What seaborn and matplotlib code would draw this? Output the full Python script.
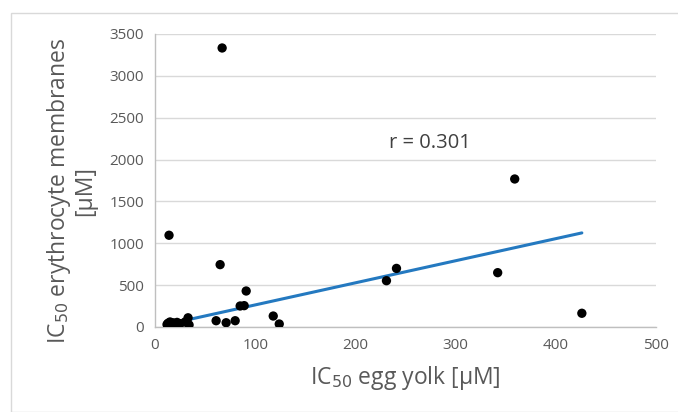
import numpy as np
import pandas as pd
import matplotlib
matplotlib.use("Agg")
import matplotlib.pyplot as plt
import seaborn as sns
from matplotlib.patches import Rectangle

# data (IC50 values, µM)
egg_yolk = [12, 13, 14, 15, 16, 18, 20, 22, 25, 30, 33, 34,
            14, 61, 65, 67, 71, 80, 85, 89, 91, 118, 124,
            231, 241, 342, 359, 426]
erythrocyte = [30, 45, 20, 60, 35, 50, 25, 55, 40, 60, 110, 25,
               1096, 75, 745, 3333, 51, 75, 251, 255, 430, 131, 36,
               553, 700, 649, 1768, 164]
x_ticks = [0, 100, 200, 300, 400, 500]
y_ticks = [0, 500, 1000, 1500, 2000, 2500, 3000, 3500]
r_label = "r = 0.301"

df = pd.DataFrame({"egg": egg_yolk, "ery": erythrocyte})

# linear trendline through the origin (as in the spreadsheet chart)
xa = np.asarray(egg_yolk, float)
ya = np.asarray(erythrocyte, float)
slope = (xa * ya).sum() / (xa * xa).sum()
trend = pd.DataFrame({"egg": [xa.min(), xa.max()]})
trend["ery"] = slope * trend["egg"]

sns.set_style("white")
plt.rcParams['font.family'] = ['Open Sans', 'DejaVu Sans']

fig = plt.figure(figsize=(6.78, 4.12), dpi=100)
ax = fig.add_axes([155/678, 1-327/412, (656-155)/678, (327-34)/412])

fig.patches.append(Rectangle((11/678, 0), 700/678, 1-13/412, transform=fig.transFigure,
                             fill=False, edgecolor="#d9d9d9", linewidth=1.0, zorder=0))

sns.scatterplot(data=df, x="egg", y="ery", ax=ax, color="black", s=45,
                edgecolor="none", linewidth=0, alpha=1, zorder=3)
sns.lineplot(data=trend, x="egg", y="ery", ax=ax, color="#2479C0",
             linewidth=2.2, zorder=2)

ax.set_xlim(0, 500)
ax.set_ylim(0, 3500)
ax.set_xticks(x_ticks)
ax.set_yticks(y_ticks)
ax.tick_params(axis="both", length=0, labelsize=11, colors="#595959", pad=8)
ax.grid(axis="y", color="#d9d9d9", linewidth=1.0)
ax.set_axisbelow(True)
for s in ["top", "right"]:
    ax.spines[s].set_visible(False)
for s in ["left", "bottom"]:
    ax.spines[s].set_color("#bfbfbf")
    ax.spines[s].set_linewidth(1.0)

ax.set_xlabel("IC$_{50}$ egg yolk [µM]", fontsize=16.5, color="#595959", labelpad=8)
ax.set_ylabel("IC$_{50}$ erythrocyte membranes\n[µM]", fontsize=16.5, color="#595959",
              linespacing=1.0)
ax.yaxis.set_label_coords(-(155 - 97) / 501, (327 - 191) / 293)
ax.text(274, 2200, r_label, fontsize=14.5, color="#404040", ha="center", va="center")

fig.savefig("out.png", dpi=100)
